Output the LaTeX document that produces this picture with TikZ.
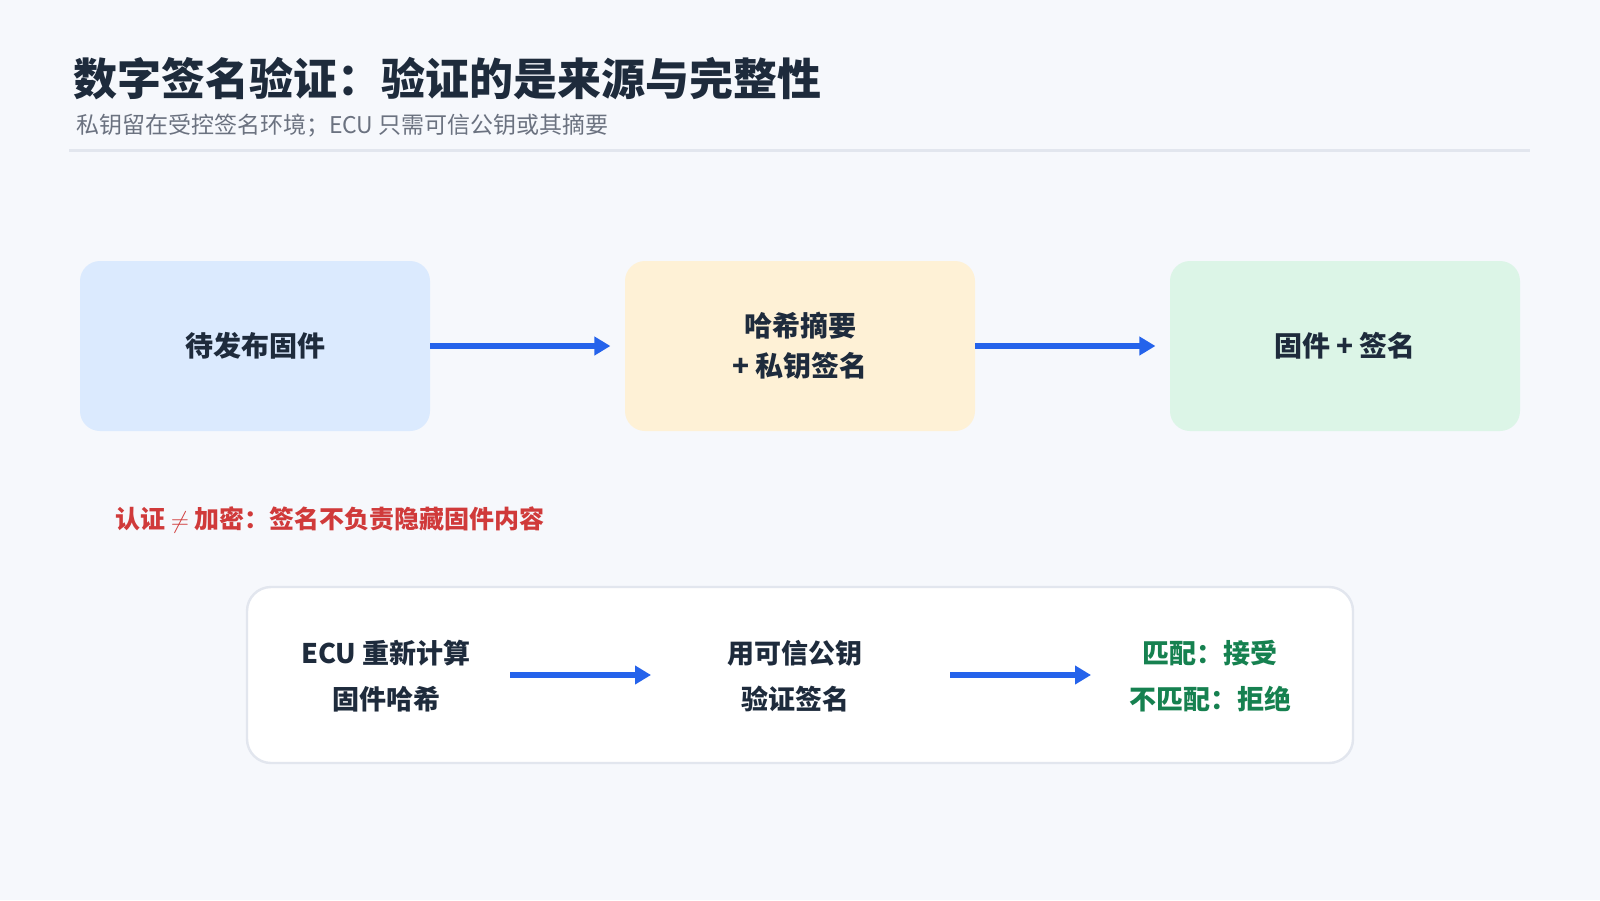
\documentclass[tikz,border=0pt]{standalone}
\usepackage{fontspec}
\setmainfont{Noto Sans CJK SC}
\usetikzlibrary{arrows.meta, positioning}
\definecolor{bgc}{HTML}{F6F8FC}
\definecolor{ink}{HTML}{1E2B3C}
\definecolor{subc}{HTML}{6B7280}
\definecolor{rulec}{HTML}{E2E6EE}
\definecolor{bluef}{HTML}{DBEAFE}
\definecolor{ambf}{HTML}{FEF1D6}
\definecolor{grnf}{HTML}{DCF5E7}
\definecolor{arrc}{HTML}{2563EB}
\definecolor{redc}{HTML}{D03A3A}
\definecolor{grnc}{HTML}{168150}
\tikzset{
    step-box/.style={
        rounded corners=10pt, minimum width=175pt, minimum height=85pt,
        font=\fontsize{14}{20}\selectfont\bfseries, text=ink, align=center
    },
    check-text/.style={
        font=\fontsize{13.5}{23}\selectfont\bfseries, text=ink, align=center
    },
    flow-arrow/.style={
        draw=arrc, line width=2.6pt, -{Triangle[length=8pt,width=9pt]}
    },
}
\begin{document}
\begin{tikzpicture}[x=0.5pt, y=-0.5pt]

        % BACKGROUND
        \fill[bgc] (0,0) rectangle (1600,900);
        \useasboundingbox (0,0) rectangle (1600,900);

        % TITLE
        \node[anchor=west, text=ink, font=\fontsize{22}{26}\selectfont\bfseries] (TITLE) at (66,79) {数字签名验证：验证的是来源与完整性};
        \node[anchor=west, text=subc, font=\fontsize{11.5}{14}\selectfont] (SUB) at (69,126) {私钥留在受控签名环境；ECU 只需可信公钥或其摘要};
        \draw[rulec, line width=1.5pt] (69,150) -- (1530,150);

        % SIGNING ROW
        \node[step-box, fill=bluef] (FW)   at (255,346)  {待发布固件};
        \node[step-box, fill=ambf]  (SIGN) at (800,346)  {哈希摘要\\+ 私钥签名};
        \node[step-box, fill=grnf]  (OUT)  at (1345,346) {固件 + 签名};
        \draw[flow-arrow] (FW.east)   -- ++(180,0) coordinate (A1);
        \draw[flow-arrow] (SIGN.east) -- ++(180,0) coordinate (A2);

        % NOTE
        \node[anchor=west, text=redc, font=\fontsize{12.5}{15}\selectfont\bfseries] (NOTE) at (108,520) {认证 $\neq$ 加密：签名不负责隐藏固件内容};

        % VERIFY PANEL
        \node[draw=rulec, line width=1.2pt, fill=white, rounded corners=12pt,
              minimum width=553pt, minimum height=88pt] (PANEL) at (800,675) {};
        \node[check-text] (HASH) at (386,676) {ECU 重新计算\\固件哈希};
        \node[check-text] (VER)  at (795,676) {用可信公钥\\验证签名};
        \node[check-text, text=grnc] (RES) at (1210,676) {匹配：接受\\不匹配：拒绝};
        \coordinate (B1S) at (510,675);
        \coordinate (B1E) at (651,675);
        \coordinate (B2S) at (950,675);
        \coordinate (B2E) at (1091,675);
        \draw[flow-arrow] (B1S) -- (B1E);
        \draw[flow-arrow] (B2S) -- (B2E);

    \end{tikzpicture}
\end{document}
